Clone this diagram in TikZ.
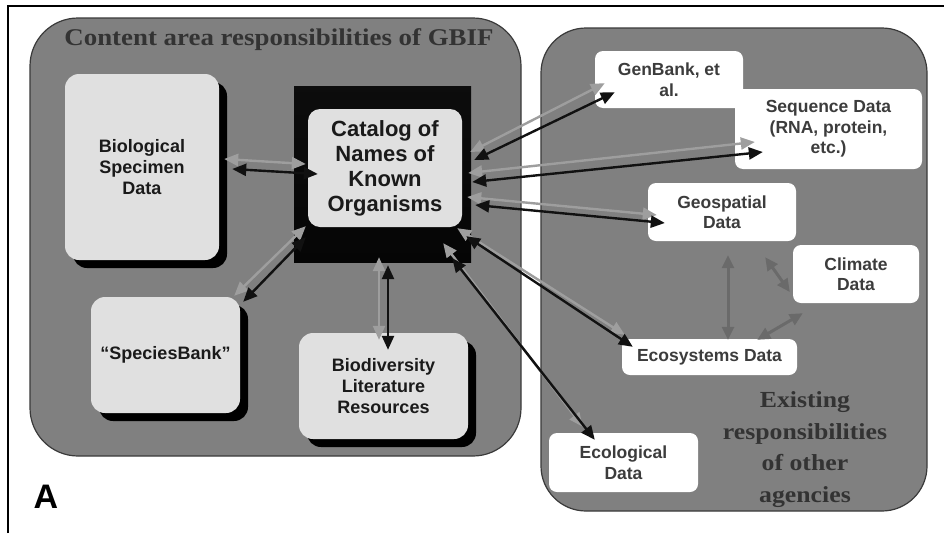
\documentclass[tikz,border=0pt]{standalone}
\usepackage{fontspec}
\setmainfont{Liberation Sans}
\newfontfamily\serifstretch[FakeStretch=1.12]{Liberation Serif}
\usetikzlibrary{arrows.meta,calc,shadows}
\definecolor{panel}{HTML}{808080}
\definecolor{panelline}{HTML}{3A3A3A}
\definecolor{lightbox}{HTML}{E0E0E0}
\definecolor{boxtext}{HTML}{1A1A1A}
\definecolor{wtext}{HTML}{3C3C3C}
\definecolor{titletext}{HTML}{333333}
\definecolor{garrow}{HTML}{9E9E9E}
\definecolor{barrow}{HTML}{111111}
\definecolor{iarrow}{HTML}{6A6A6A}
\begin{document}
\begin{tikzpicture}[x=1pt,y=-1pt,
  panelbox/.style={draw=panelline, line width=1.2pt, fill=panel, inner sep=0pt},
  lbase/.style={fill=lightbox, rounded corners=14pt, inner sep=0pt, align=center, text=boxtext},
  lbox/.style={lbase, font=\bfseries\fontsize{18}{21}\selectfont,
    general shadow={fill=black, shadow xshift=8pt, shadow yshift=-8pt}},
  wbox/.style={fill=white, rounded corners=8pt, inner sep=0pt, align=center, text=wtext,
    font=\bfseries\fontsize{17.5}{20.5}\selectfont},
  serifhead/.style={text=titletext, align=center, inner sep=0pt},
  ga/.style={draw=garrow, line width=2.4pt, {Triangle[length=14pt,width=12pt]}-{Triangle[length=14pt,width=12pt]}},
  ba/.style={draw=barrow, line width=2.4pt, {Triangle[length=14pt,width=12pt]}-{Triangle[length=14pt,width=12pt]}},
  ia/.style={draw=iarrow, line width=3pt, {Triangle[length=13pt,width=12pt]}-{Triangle[length=13pt,width=12pt]}}
]
\useasboundingbox (0,0) rectangle (944,533);
\fill[white] (0,0) rectangle (944,533);
\draw[line width=2pt] (8,533) -- (8,6) -- (944,6);

% panels
\node[panelbox, rounded corners=48pt, minimum width=491pt, minimum height=438pt] (lp) at (275.5,237) {};
\node[panelbox, rounded corners=45pt, minimum width=386pt, minimum height=483pt] (rp) at (734,269.5) {};

\node[serifhead, font=\serifstretch\bfseries\fontsize{24}{28}\selectfont] (title) at (279,40) {Content area responsibilities of GBIF};

% left boxes
\node[lbox, minimum width=154pt, minimum height=186pt] (bio) at (142,167) {Biological\\Specimen\\Data};
\node[inner sep=0pt, minimum width=177pt, minimum height=176pt, top color=black!95, middle color=black!80, bottom color=black!98] (catbg) at (382.5,174) {};
\node[lbase, rounded corners=12pt, minimum width=154pt, minimum height=118pt, font=\bfseries\fontsize{22}{25}\selectfont] (cat) at (385,168) {Catalog of\\Names of\\Known\\Organisms};
\node[lbox, minimum width=149pt, minimum height=116pt] (spb) at (165.5,355) {“SpeciesBank”};
\node[lbox, minimum width=169pt, minimum height=106pt] (bdl) at (383.5,386) {Biodiversity\\Literature\\Resources};

% right boxes
\node[wbox, minimum width=148pt, minimum height=57pt] (gen) at (669,79.5) {GenBank, et\\al.};
\node[wbox, minimum width=187pt, minimum height=80pt] (seq) at (828.5,129) {Sequence Data\\(RNA, protein,\\etc.)};
\node[wbox, minimum width=148pt, minimum height=58pt] (geo) at (722,212) {Geospatial\\Data};
\node[wbox, minimum width=126pt, minimum height=58pt] (cli) at (856,274) {Climate\\Data};
\node[wbox, minimum width=175pt, minimum height=36pt] (eco) at (709.5,357) {Ecosystems Data};
\node[wbox, minimum width=149pt, minimum height=59pt] (ecl) at (623.5,462.5) {Ecological\\Data};

\node[serifhead, font=\serifstretch\bfseries\fontsize{23}{31.5}\selectfont] (exist) at (805,449.5) {Existing\\responsibilities\\of other\\agencies};

\node[inner sep=0pt, font=\bfseries\fontsize{34}{40}\selectfont] (lab) at (46,497) {A};

% connectors
\draw[ga] ($(bio.east)+(5,-8)$) -- ($(cat.west)+(-2,-4)$);
\draw[ba] ($(bio.east)+(13,2)$) -- ($(cat.west)+(10,6)$);

\draw[ga] ($(cat.south west)+(-2,-1)$) -- ($(spb.north east)+(-6,-1)$);
\draw[ba] ($(cat.south west)+(-2,10)$) -- ($(spb.north east)+(3,5)$);

\draw[ga] ($(cat.south)+(-6,30)$) -- ($(bdl.north)+(-4.5,7)$);
\draw[ba] ($(cat.south)+(3,38)$) -- ($(bdl.north)+(4.5,17)$);

\draw[ga] ($(cat.east)+(8,-16)$) -- ($(gen.south west)+(10,-25)$);
\draw[ba] ($(cat.east)+(12,-8)$) -- ($(gen.south west)+(20,-16)$);

\draw[ga] ($(cat.east)+(6,5)$) -- ($(seq.west)+(20,13)$);
\draw[ba] ($(cat.east)+(10,14)$) -- ($(seq.west)+(28,23)$);

\draw[ga] ($(cat.east)+(5,29)$) -- ($(geo.west)+(9,3)$);
\draw[ba] ($(cat.east)+(13,37)$) -- ($(geo.west)+(17,11)$);

\draw[ga] ($(cat.south east)+(-5,1)$) -- ($(eco.north west)+(3,-4)$);
\draw[ba] ($(cat.south east)+(4,9)$) -- ($(eco.north west)+(11,8)$);

\draw[ga] ($(cat.south east)+(-19,16)$) -- ($(ecl.north west)+(34,-6)$);
\draw[ba] ($(cat.south east)+(-10,31)$) -- ($(ecl.north west)+(46,7)$);

\draw[ia] ($(geo.south)+(6,14)$) -- ($(eco.north)+(18.5,1)$);
\draw[ia] ($(geo.south east)+(-31,16)$) -- ($(cli.west)+(-3,18)$);
\draw[ia] ($(eco.north east)+(-40,1)$) -- ($(cli.south west)+(10,10)$);
\end{tikzpicture}
\end{document}
